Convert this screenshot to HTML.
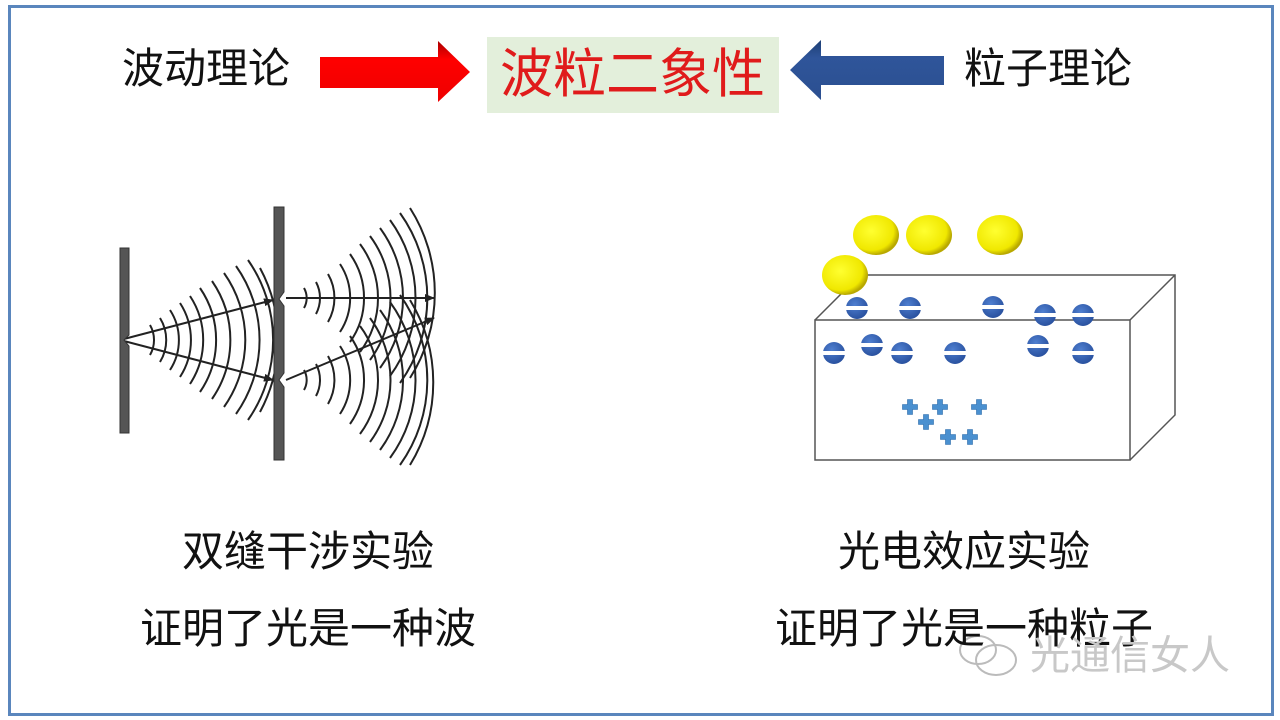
<!DOCTYPE html>
<html><head><meta charset="utf-8"><style>
body{margin:0;width:1280px;height:720px;background:#fff;position:relative;overflow:hidden;font-family:"Liberation Sans","Noto Sans CJK SC",sans-serif}
.frame{position:absolute;left:8px;top:5px;width:1260px;height:705px;border:3px solid #5a86bd}
.t{position:absolute;white-space:nowrap;color:#111;line-height:1.2}
</style></head><body>
<div class="frame"></div>
<div class="t" style="left:122px;top:44px;font-size:42px">波动理论</div>
<div class="t" style="left:964px;top:44px;font-size:42px">粒子理论</div>
<div style="position:absolute;left:487px;top:37px;width:292px;height:76px;background:#e3efdb"></div>
<div class="t" style="left:500px;top:43px;font-size:53px;color:#e01b1b">波粒二象性</div>
<svg width="1280" height="720" style="position:absolute;left:0;top:0">
<defs>
<linearGradient id="rg" x1="0" y1="0" x2="0" y2="1"><stop offset="0" stop-color="#a00"/><stop offset=".3" stop-color="#f00"/><stop offset="1" stop-color="#e00"/></linearGradient>
<linearGradient id="bg" x1="0" y1="0" x2="0" y2="1"><stop offset="0" stop-color="#1d3f75"/><stop offset=".3" stop-color="#2f559a"/><stop offset="1" stop-color="#2b4f90"/></linearGradient>
<radialGradient id="yg" cx=".4" cy=".4" r=".6"><stop offset="0" stop-color="#ffff30"/><stop offset=".8" stop-color="#f0e800"/><stop offset="1" stop-color="#b8a800"/></radialGradient>
<radialGradient id="cg" cx=".4" cy=".35" r=".65"><stop offset="0" stop-color="#4f7fd0"/><stop offset="1" stop-color="#2a52a0"/></radialGradient>
<marker id="ah" markerWidth="10" markerHeight="8" refX="9" refY="4" orient="auto" markerUnits="userSpaceOnUse"><path d="M0,0L10,4L0,8z" fill="#222"/></marker>
</defs>
<path d="M320,57H438V41L470,72L438,102V88H320Z" fill="url(#rg)"/>
<path d="M944,56H821V40L790,70L821,100V85H944Z" fill="url(#bg)"/>
<g stroke="#222" stroke-width="2" fill="none">
<path d="M150,325 A30,30 0 0 1 150,355"/>
<path d="M160,318 A42,42 0 0 1 160,362"/>
<path d="M170,310 A55,55 0 0 1 170,370"/>
<path d="M180,303 A68,68 0 0 1 180,377"/>
<path d="M190,296 A80,80 0 0 1 190,384"/>
<path d="M200,288 A92,92 0 0 1 200,392"/>
<path d="M212,281 A104,104 0 0 1 212,399"/>
<path d="M224,273 A116,116 0 0 1 224,407"/>
<path d="M236,266 A128,128 0 0 1 236,414"/>
<path d="M248,260 A140,140 0 0 1 248,420"/>
<path d="M260,268 A152,152 0 0 1 260,412"/>
<g transform="translate(284,298)">
<path d="M20,-10 A20,20 0 0 1 20,10"/><path d="M32,-16 A34,34 0 0 1 32,16"/><path d="M44,-24 A48,48 0 0 1 44,24"/><path d="M56,-34 A62,62 0 0 1 56,34"/><path d="M66,-44 A76,76 0 0 1 66,44"/><path d="M76,-54 A90,90 0 0 1 76,54"/><path d="M86,-62 A104,104 0 0 1 86,62"/><path d="M96,-70 A118,118 0 0 1 96,70"/><path d="M106,-78 A132,132 0 0 1 106,78"/><path d="M116,-85 A146,146 0 0 1 116,85"/><path d="M126,-90 A158,158 0 0 1 126,80"/>
</g>
<g transform="translate(284,380)">
<path d="M20,-10 A20,20 0 0 1 20,10"/><path d="M32,-16 A34,34 0 0 1 32,16"/><path d="M44,-24 A48,48 0 0 1 44,24"/><path d="M56,-34 A62,62 0 0 1 56,34"/><path d="M66,-44 A76,76 0 0 1 66,44"/><path d="M76,-54 A90,90 0 0 1 76,54"/><path d="M86,-62 A104,104 0 0 1 86,62"/><path d="M96,-70 A118,118 0 0 1 96,70"/><path d="M106,-78 A132,132 0 0 1 106,78"/><path d="M116,-85 A146,146 0 0 1 116,85"/><path d="M126,-80 A158,158 0 0 1 126,85"/>
</g>
<line x1="120" y1="340" x2="273" y2="300" marker-end="url(#ah)"/>
<line x1="120" y1="340" x2="273" y2="380" marker-end="url(#ah)"/>
<line x1="286" y1="298" x2="434" y2="298" marker-end="url(#ah)"/>
<line x1="286" y1="380" x2="434" y2="318" marker-end="url(#ah)"/>
</g>
<path d="M120,248H129V335L124,340L129,346V433H120Z" fill="#555" stroke="#333"/>
<path d="M274,207H284V292L279,299L284,306V373L279,380L284,387V460H274Z" fill="#555" stroke="#333"/>
<path d="M815,320L860,275H1175V415L1130,460" fill="#fff" stroke="#555" stroke-width="1.5"/>
<line x1="1130" y1="320" x2="1175" y2="275" stroke="#555" stroke-width="1.5"/>
<rect x="815" y="320" width="315" height="140" fill="none" stroke="#555" stroke-width="1.5"/>
<g fill="url(#yg)">
<ellipse cx="876" cy="235" rx="23" ry="20"/><ellipse cx="929" cy="235" rx="23" ry="20"/><ellipse cx="1000" cy="235" rx="23" ry="20"/><ellipse cx="845" cy="275" rx="23" ry="20"/>
</g>
<g fill="url(#cg)">
<circle cx="857" cy="308" r="11"/><circle cx="910" cy="308" r="11"/><circle cx="993" cy="307" r="11"/><circle cx="1045" cy="315" r="11"/><circle cx="1083" cy="315" r="11"/><circle cx="834" cy="353" r="11"/><circle cx="872" cy="345" r="11"/><circle cx="902" cy="353" r="11"/><circle cx="955" cy="353" r="11"/><circle cx="1038" cy="346" r="11"/><circle cx="1083" cy="353" r="11"/>
</g>
<g fill="#fff">
<rect x="846" y="306" width="22" height="4"/><rect x="899" y="306" width="22" height="4"/><rect x="982" y="305" width="22" height="4"/><rect x="1034" y="313" width="22" height="4"/><rect x="1072" y="313" width="22" height="4"/><rect x="823" y="351" width="22" height="4"/><rect x="861" y="343" width="22" height="4"/><rect x="891" y="351" width="22" height="4"/><rect x="944" y="351" width="22" height="4"/><rect x="1027" y="344" width="22" height="4"/><rect x="1072" y="351" width="22" height="4"/>
</g>
<g fill="#4a90d0" stroke="#2a6aa8" stroke-width=".6">
<path id="p" d="M-2.5,-7.5h5v5h5v5h-5v5h-5v-5h-5v-5h5z" transform="translate(910,407)"/>
<use href="#p" transform="translate(30,0)"/><use href="#p" transform="translate(69,0)"/><use href="#p" transform="translate(16,15)"/><use href="#p" transform="translate(38,30)"/><use href="#p" transform="translate(60,30)"/>
</g>
<g fill="none" stroke="#bbb" stroke-width="2">
<ellipse cx="978" cy="650" rx="18" ry="14"/><ellipse cx="996" cy="660" rx="20" ry="15"/>
</g>
</svg>
<div class="t" style="left:182px;top:527px;font-size:42px">双缝干涉实验</div>
<div class="t" style="left:140px;top:604px;font-size:42px">证明了光是一种波</div>
<div class="t" style="left:838px;top:527px;font-size:42px">光电效应实验</div>
<div class="t" style="left:775px;top:604px;font-size:42px">证明了光是一种粒子</div>
<div class="t" style="left:1030px;top:632px;font-size:40px;color:#c8c8c8">光通信女人</div>
</body></html>
